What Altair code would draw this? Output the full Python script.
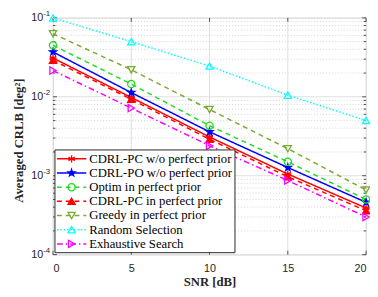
import altair as alt
import pandas as pd

snr = [0, 5, 10, 15, 20]
series_names = [
    "CDRL-PC w/o perfect prior",
    "CDRL-PO w/o perfect prior",
    "Optim in perfect prior",
    "CDRL-PC in perfect prior",
    "Greedy in perfect prior",
    "Random Selection",
    "Exhaustive Search",
]
cdrl_pc_wo = [0.031, 0.0098, 0.0031, 0.00105, 0.00039]
cdrl_po_wo = [0.037, 0.0113, 0.0036, 0.00127, 0.00046]
optim = [0.045, 0.0145, 0.0043, 0.0015, 0.0005]
cdrl_pc_in = [0.029, 0.0093, 0.0029, 0.00097, 0.00036]
greedy = [0.063, 0.022, 0.0069, 0.0022, 0.00066]
random_sel = [0.1, 0.05, 0.0245, 0.0105, 0.005]
exhaustive = [0.0215, 0.0072, 0.0024, 0.00087, 0.0003]
all_values = [cdrl_pc_wo, cdrl_po_wo, optim, cdrl_pc_in, greedy, random_sel, exhaustive]

colors = ["#ff0000", "#0000ff", "#22dd22", "#ff0000", "#77ac30", "#00ffff", "#ff00ff"]
dashes = [[1, 0], [1, 0], [5, 4], [5, 4], [5, 4], [1.5, 2], [6, 3, 1.5, 3]]
fills = ["#ff0000", "#0000ff", "transparent", "#ff0000", "transparent", "transparent", "transparent"]
asterisk = "M0,-1L0,1M-0.87,-0.5L0.87,0.5M-0.87,0.5L0.87,-0.5M-1,0L1,0"
star = ("M0,-1L0.2245,-0.309L0.9511,-0.309L0.3633,0.118L0.5878,0.809L0,0.382"
        "L-0.5878,0.809L-0.3633,0.118L-0.9511,-0.309L-0.2245,-0.309Z")
shapes = [asterisk, star, "circle", "triangle-up", "triangle-down", "triangle-up", "triangle-right"]

y_ticks = [1e-4, 1e-3, 1e-2, 1e-1]
y_exps = ["-4", "-3", "-2", "-1"]
minor = [m * 10.0 ** e for e in (-4, -3, -2) for m in range(2, 10)]

W, H = 320, 242

rows = []
for name, vals in zip(series_names, all_values):
    for s, v in zip(snr, vals):
        rows.append({"series": name, "snr": s, "value": v})
df = pd.DataFrame(rows)

color_scale = alt.Scale(domain=series_names, range=colors)
dash_scale = alt.Scale(domain=series_names, range=dashes)
fill_scale = alt.Scale(domain=series_names, range=fills)
shape_scale = alt.Scale(domain=series_names, range=shapes)

xs = alt.Scale(domain=[0, 20], nice=False)
ys = alt.Scale(type="log", domain=[1e-4, 1e-1], nice=False)

grid_col = "#dedede"

minor_df = pd.DataFrame({"v": minor})
minor_grid = alt.Chart(minor_df).mark_rule(color="#c8c8c8", strokeDash=[1, 2], strokeWidth=0.8).encode(
    y=alt.Y("v:Q", scale=ys), x=alt.value(0), x2=alt.value(W))
minor_tick_l = alt.Chart(minor_df).mark_rule(color="#262626", strokeWidth=0.8).encode(
    y=alt.Y("v:Q", scale=ys), x=alt.value(0), x2=alt.value(2.5))
minor_tick_r = alt.Chart(minor_df).mark_rule(color="#262626", strokeWidth=0.8).encode(
    y=alt.Y("v:Q", scale=ys), x=alt.value(W - 2.5), x2=alt.value(W))

ytick_df = pd.DataFrame({"v": y_ticks, "exp": y_exps})
major_grid_y = alt.Chart(ytick_df).mark_rule(color=grid_col, strokeWidth=1).encode(
    y=alt.Y("v:Q", scale=ys), x=alt.value(0), x2=alt.value(W))
major_tick_l = alt.Chart(ytick_df).mark_rule(color="#262626", strokeWidth=0.8).encode(
    y=alt.Y("v:Q", scale=ys), x=alt.value(0), x2=alt.value(4))
major_tick_r = alt.Chart(ytick_df).mark_rule(color="#262626", strokeWidth=0.8).encode(
    y=alt.Y("v:Q", scale=ys), x=alt.value(W - 4), x2=alt.value(W))
ylab_base = alt.Chart(ytick_df).mark_text(
    align="right", baseline="middle", font="Liberation Sans", fontSize=11, color="#262626"
).encode(y=alt.Y("v:Q", scale=ys), x=alt.value(-10), text=alt.value("10"))
ylab_exp = alt.Chart(ytick_df).mark_text(
    align="left", baseline="middle", font="Liberation Sans", fontSize=8, color="#262626", dy=-4
).encode(y=alt.Y("v:Q", scale=ys), x=alt.value(-10), text="exp:N")

xtick_df = pd.DataFrame({"s": snr})
major_grid_x = alt.Chart(xtick_df).mark_rule(color=grid_col, strokeWidth=1).encode(
    x=alt.X("s:Q", scale=xs), y=alt.value(0), y2=alt.value(H))
xtick_b = alt.Chart(xtick_df).mark_rule(color="#262626", strokeWidth=0.8).encode(
    x=alt.X("s:Q", scale=xs), y=alt.value(H - 4), y2=alt.value(H))
xtick_t = alt.Chart(xtick_df).mark_rule(color="#262626", strokeWidth=0.8).encode(
    x=alt.X("s:Q", scale=xs), y=alt.value(0), y2=alt.value(4))

lines = alt.Chart(df).mark_line(strokeWidth=1.5, clip=True).encode(
    x=alt.X("snr:Q", scale=xs,
            axis=alt.Axis(values=snr, grid=False, ticks=False, domain=False, labelPadding=8,
                          labelFont="Liberation Sans", labelFontSize=11, labelColor="#262626",
                          title="SNR [dB]", titleFont="Liberation Serif", titleFontSize=13,
                          titleFontWeight="bold", titleColor="#262626", titlePadding=3)),
    y=alt.Y("value:Q", scale=ys,
            axis=alt.Axis(values=y_ticks, grid=False, ticks=False, domain=False, labels=False,
                          title="Averaged CRLB [deg²]", titleFont="Liberation Serif",
                          titleFontSize=13, titleFontWeight="bold", titleColor="#262626",
                          titleX=-35, titleY=H / 2 + 4, titleAngle=270, titleBaseline="middle")),
    color=alt.Color("series:N", scale=color_scale, legend=None),
    strokeDash=alt.StrokeDash("series:N", scale=dash_scale, legend=None),
    detail="series:N",
)
points = alt.Chart(df).mark_point(size=55, strokeWidth=1.3, opacity=1).encode(
    x=alt.X("snr:Q", scale=xs),
    y=alt.Y("value:Q", scale=ys),
    stroke=alt.Stroke("series:N", scale=color_scale, legend=None),
    fill=alt.Fill("series:N", scale=fill_scale, legend=None),
    shape=alt.Shape("series:N", scale=shape_scale, legend=None),
)

# legend (anchored to the lower-left corner of the plot)
leg_df = pd.DataFrame({"series": series_names, "idx": list(range(len(series_names)))})
box_bottom = H - 2
box_top = box_bottom - 105
leg_first, leg_step = box_top + 9, 14.5
leg_box = alt.Chart(pd.DataFrame({"a": [0]})).mark_rect(
    fill="white", stroke="#262626", strokeWidth=1).encode(
    x=alt.value(2), x2=alt.value(186), y=alt.value(box_top), y2=alt.value(box_bottom))
leg_base = alt.Chart(leg_df).transform_calculate(ly=f"{leg_first} + datum.idx * {leg_step}")
leg_lines = leg_base.mark_rule(strokeWidth=1.5).encode(
    x=alt.value(4), x2=alt.value(34), y=alt.Y("ly:Q", scale=None),
    color=alt.Color("series:N", scale=color_scale, legend=None),
    strokeDash=alt.StrokeDash("series:N", scale=dash_scale, legend=None),
)
leg_pts = leg_base.mark_point(size=55, strokeWidth=1.3, opacity=1).encode(
    x=alt.value(19), y=alt.Y("ly:Q", scale=None),
    stroke=alt.Stroke("series:N", scale=color_scale, legend=None),
    fill=alt.Fill("series:N", scale=fill_scale, legend=None),
    shape=alt.Shape("series:N", scale=shape_scale, legend=None),
)
leg_text = leg_base.mark_text(align="left", baseline="middle", font="Liberation Serif",
                              fontSize=13, color="#000000").encode(
    x=alt.value(37), y=alt.Y("ly:Q", scale=None), text="series:N")

chart = alt.layer(
    minor_grid, major_grid_y, major_grid_x,
    minor_tick_l, minor_tick_r, major_tick_l, major_tick_r, xtick_b, xtick_t,
    lines, points,
    leg_box, leg_lines, leg_pts, leg_text,
    ylab_base, ylab_exp,
).properties(
    width=W, height=H,
    autosize=alt.AutoSizeParams(type="none"),
    padding={"left": 46, "top": 7, "right": 4, "bottom": 32},
).configure_view(stroke="#262626", strokeWidth=1).configure(background="white")

chart.save("out.html", embed_options={"renderer": "svg", "actions": False})
